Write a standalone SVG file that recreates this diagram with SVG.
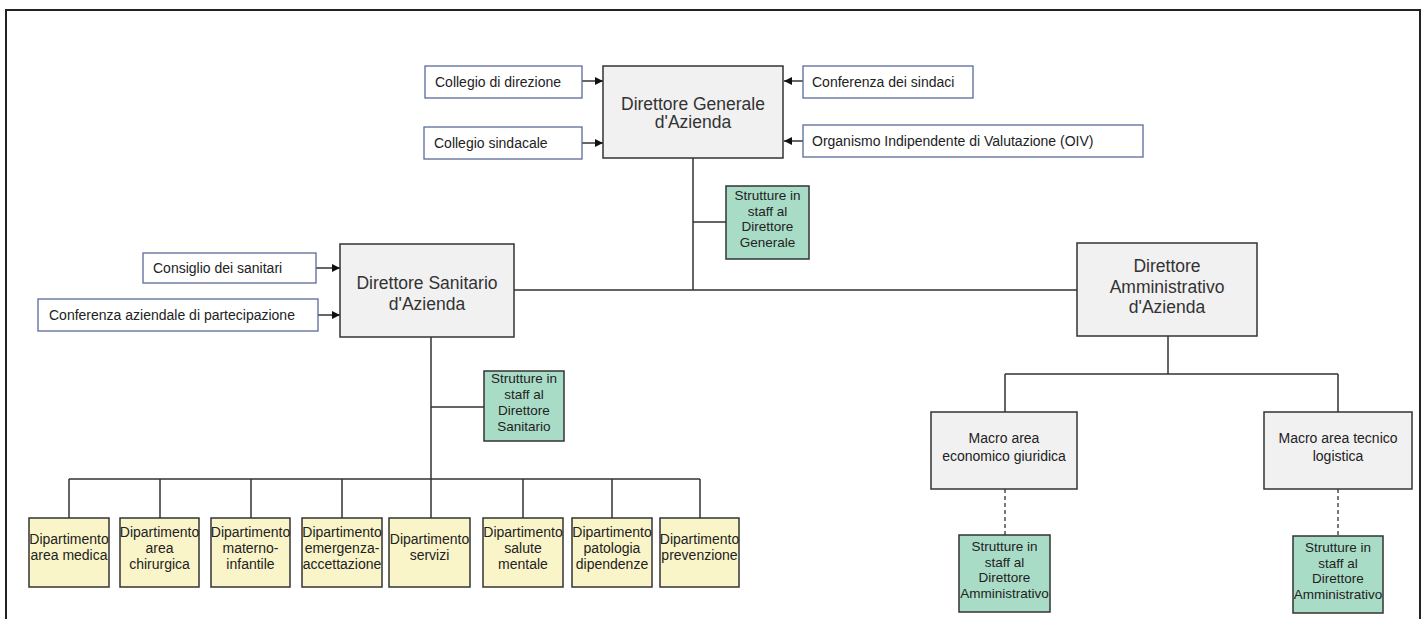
<svg xmlns="http://www.w3.org/2000/svg" width="1428" height="619" viewBox="0 0 1428 619">
<style>
text{font-family:"Liberation Sans",Arial,sans-serif;fill:#222}
.in rect{fill:#fff;stroke:#5a6a9a;stroke-width:1.3}
.in text{font-size:14px}
.dir rect{fill:#f1f1f1;stroke:#333;stroke-width:1.5}
.dir text{font-size:17.5px;text-anchor:middle;fill:#333}
.mac rect{fill:#f1f1f1;stroke:#333;stroke-width:1.5}
.mac text{font-size:14px;text-anchor:middle}
.stf rect{fill:#a9dcc6;stroke:#333;stroke-width:1.5}
.stf text{font-size:13.5px;text-anchor:middle}
.dep rect{fill:#faf5c8;stroke:#333;stroke-width:1.5}
.dep text{font-size:14px;text-anchor:middle}
.ln{stroke:#333;stroke-width:1.5;fill:none}
.dash{stroke:#333;stroke-width:1.3;fill:none;stroke-dasharray:4 3}
</style>
<defs>
<marker id="ah" viewBox="0 0 10 10" refX="10" refY="5" markerWidth="8" markerHeight="8" markerUnits="userSpaceOnUse" orient="auto">
<path d="M0,0 L10,5 L0,10 z" fill="#111"/>
</marker>
</defs>
<path d="M6,619 V10 H1420 V619" fill="none" stroke="#222" stroke-width="2"/>

<g id="connectors">
<line class="ln" x1="582" y1="81" x2="603" y2="81" marker-end="url(#ah)"/>
<line class="ln" x1="582" y1="143" x2="603" y2="143" marker-end="url(#ah)"/>
<line class="ln" x1="803" y1="81" x2="784" y2="81" marker-end="url(#ah)"/>
<line class="ln" x1="803" y1="141" x2="784" y2="141" marker-end="url(#ah)"/>
<line class="ln" x1="316" y1="268" x2="340" y2="268" marker-end="url(#ah)"/>
<line class="ln" x1="318" y1="315" x2="340" y2="315" marker-end="url(#ah)"/>
<path class="ln" d="M693,158 V290 M514,290 H1077 M693,222 H726"/>
<path class="ln" d="M431,337 V479 M431,407 H484 M69,479 H700 M69,479 V518 M160,479 V518 M251,479 V518 M342,479 V518 M431,479 V518 M523,479 V518 M612,479 V518 M700,479 V518"/>
<path class="ln" d="M1168,336 V374 M1005,374 H1338 M1005,374 V412 M1338,374 V412"/>
<path class="dash" d="M1005,489 V535 M1338,489 V536"/>
</g>

<g id="collegio-direzione" class="in"><rect x="425" y="66" width="157" height="32"/><text x="435" y="87">Collegio di direzione</text></g>
<g id="collegio-sindacale" class="in"><rect x="424" y="127" width="158" height="32"/><text x="434" y="148">Collegio sindacale</text></g>
<g id="conferenza-sindaci" class="in"><rect x="803" y="66" width="170" height="32"/><text x="812" y="87">Conferenza dei sindaci</text></g>
<g id="oiv" class="in"><rect x="803" y="125" width="340" height="32"/><text x="812" y="146">Organismo Indipendente di Valutazione (OIV)</text></g>
<g id="consiglio-sanitari" class="in"><rect x="143" y="253" width="173" height="30"/><text x="153" y="273">Consiglio dei sanitari</text></g>
<g id="conferenza-aziendale" class="in"><rect x="38" y="299" width="280" height="32"/><text x="49" y="320">Conferenza aziendale di partecipazione</text></g>

<g id="direttore-generale" class="dir"><rect x="603" y="66" width="180" height="92"/><text x="693" y="110">Direttore Generale</text><text x="693" y="128">d'Azienda</text></g>
<g id="direttore-sanitario" class="dir"><rect x="340" y="244" width="174" height="93"/><text x="427" y="289">Direttore Sanitario</text><text x="427" y="310">d'Azienda</text></g>
<g id="direttore-amministrativo" class="dir"><rect x="1077" y="243" width="180" height="93"/><text x="1167" y="272">Direttore</text><text x="1167" y="293">Amministrativo</text><text x="1167" y="313">d'Azienda</text></g>

<g id="staff-dg" class="stf"><rect x="726" y="186" width="83" height="73"/><text x="767.5" y="200">Strutture in</text><text x="767.5" y="216">staff al</text><text x="767.5" y="231">Direttore</text><text x="767.5" y="247">Generale</text></g>
<g id="staff-ds" class="stf"><rect x="484" y="371" width="80" height="70"/><text x="524" y="383">Strutture in</text><text x="524" y="399">staff al</text><text x="524" y="415">Direttore</text><text x="524" y="431">Sanitario</text></g>

<g id="macro-economico" class="mac"><rect x="931" y="412" width="146" height="77"/><text x="1004" y="443">Macro area</text><text x="1004" y="461">economico giuridica</text></g>
<g id="macro-tecnico" class="mac"><rect x="1264" y="412" width="148" height="77"/><text x="1338" y="443">Macro area tecnico</text><text x="1338" y="461">logistica</text></g>

<g id="staff-da-1" class="stf"><rect x="959" y="535" width="91" height="77"/><text x="1004.5" y="551">Strutture in</text><text x="1004.5" y="567">staff al</text><text x="1004.5" y="582">Direttore</text><text x="1004.5" y="598">Amministrativo</text></g>
<g id="staff-da-2" class="stf"><rect x="1293" y="536" width="90" height="77"/><text x="1338" y="552">Strutture in</text><text x="1338" y="568">staff al</text><text x="1338" y="583">Direttore</text><text x="1338" y="599">Amministrativo</text></g>

<g id="dip-area-medica" class="dep"><rect x="29" y="518" width="80" height="69"/><text x="69" y="544">Dipartimento</text><text x="69" y="560">area medica</text></g>
<g id="dip-area-chirurgica" class="dep"><rect x="120" y="518" width="79" height="69"/><text x="159.5" y="537">Dipartimento</text><text x="159.5" y="553">area</text><text x="159.5" y="569">chirurgica</text></g>
<g id="dip-materno-infantile" class="dep"><rect x="211" y="518" width="79" height="69"/><text x="250.5" y="537">Dipartimento</text><text x="250.5" y="553">materno-</text><text x="250.5" y="569">infantile</text></g>
<g id="dip-emergenza" class="dep"><rect x="302" y="518" width="80" height="69"/><text x="342" y="537">Dipartimento</text><text x="342" y="553">emergenza-</text><text x="342" y="569">accettazione</text></g>
<g id="dip-servizi" class="dep"><rect x="389" y="518" width="81" height="69"/><text x="429.5" y="544">Dipartimento</text><text x="429.5" y="560">servizi</text></g>
<g id="dip-salute-mentale" class="dep"><rect x="483" y="518" width="80" height="69"/><text x="523" y="537">Dipartimento</text><text x="523" y="553">salute</text><text x="523" y="569">mentale</text></g>
<g id="dip-patologia" class="dep"><rect x="572" y="518" width="80" height="69"/><text x="612" y="537">Dipartimento</text><text x="612" y="553">patologia</text><text x="612" y="569">dipendenze</text></g>
<g id="dip-prevenzione" class="dep"><rect x="660" y="518" width="79" height="69"/><text x="699.5" y="544">Dipartimento</text><text x="699.5" y="560">prevenzione</text></g>
</svg>
